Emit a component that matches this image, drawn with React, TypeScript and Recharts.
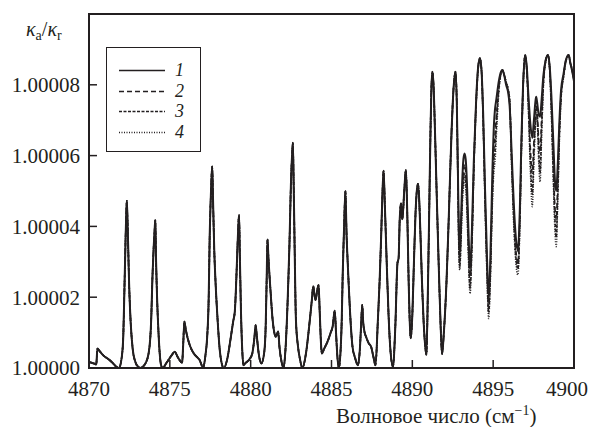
import React from 'react';
import { LineChart, Line, XAxis, YAxis, Legend, ReferenceArea } from 'recharts';

// wavenumber (cm^-1) and (kappa_a/kappa_r - 1) in units of 1e-5
// below 4892.8 cm^-1 the four curves coincide
const nuLeft = [
  4870.0, 4870.35, 4870.45, 4870.52, 4870.65, 4870.9, 4871.2, 4871.45, 4871.7, 4871.85,
  4872.03, 4872.12, 4872.18, 4872.24, 4872.3, 4872.34, 4872.38, 4872.42, 4872.48, 4872.55,
  4872.7, 4872.86, 4873.05, 4873.17, 4873.45, 4873.69, 4873.85, 4873.92, 4874.0, 4874.06,
  4874.1, 4874.15, 4874.21, 4874.3, 4874.36, 4874.45, 4874.55, 4874.8, 4875.1, 4875.3,
  4875.5, 4875.76, 4875.83, 4875.9, 4875.98, 4876.1, 4876.27, 4876.5, 4876.7, 4876.85,
  4876.95, 4877.06, 4877.2, 4877.31, 4877.4, 4877.47, 4877.54, 4877.62, 4877.68, 4877.75,
  4877.83, 4877.95, 4878.09, 4878.2, 4878.34, 4878.55, 4878.75, 4878.92, 4879.02, 4879.12,
  4879.2, 4879.28, 4879.33, 4879.4, 4879.47, 4879.55, 4879.7, 4879.9, 4880.1, 4880.22,
  4880.31, 4880.38, 4880.5, 4880.66, 4880.84, 4880.93, 4880.99, 4881.04, 4881.1, 4881.24,
  4881.35, 4881.45, 4881.55, 4881.62, 4881.7, 4881.78, 4881.9, 4882.03, 4882.15, 4882.28,
  4882.4, 4882.49, 4882.56, 4882.61, 4882.66, 4882.72, 4882.8, 4882.93, 4883.05, 4883.2,
  4883.42, 4883.66, 4883.78, 4883.87, 4883.95, 4884.02, 4884.1, 4884.2, 4884.27, 4884.35,
  4884.4, 4884.55, 4884.76, 4884.95, 4885.07, 4885.2, 4885.28, 4885.36, 4885.45, 4885.55,
  4885.63, 4885.7, 4885.78, 4885.86, 4885.93, 4886.0, 4886.07, 4886.2, 4886.3, 4886.45,
  4886.63, 4886.75, 4886.83, 4886.9, 4886.96, 4887.05, 4887.14, 4887.3, 4887.45, 4887.6,
  4887.72, 4887.87, 4887.98, 4888.07, 4888.15, 4888.22, 4888.3, 4888.43, 4888.53, 4888.63,
  4888.8, 4888.95, 4889.08, 4889.15, 4889.22, 4889.3, 4889.38, 4889.5, 4889.6, 4889.68,
  4889.77, 4889.85, 4889.9, 4890.0, 4890.1, 4890.2, 4890.3, 4890.35, 4890.42, 4890.5,
  4890.6, 4890.7, 4890.8, 4890.87, 4890.97, 4891.05, 4891.12, 4891.18, 4891.24, 4891.31,
  4891.4, 4891.49, 4891.6, 4891.7, 4891.84, 4891.95, 4892.11, 4892.25, 4892.42, 4892.55,
  4892.67, 4892.75,
];
const kappaLeft = [
  0.17, 0.12, 0.1, 0.55, 0.48, 0.35, 0.25, 0.15, 0.03, 0.0,
  0.32, 0.9, 2.0, 3.2, 4.3, 4.72, 4.2, 3.5, 2.4, 1.55,
  0.55, 0.18, 0.03, 0.0, 0.1, 0.42, 1.4, 2.5, 3.4, 3.9,
  4.18, 3.0, 2.0, 1.0, 0.5, 0.1, 0.0, 0.15, 0.35, 0.46,
  0.3, 0.15, 0.7, 1.31, 1.1, 0.85, 0.6, 0.4, 0.3, 0.22,
  0.1, 0.0, 0.35, 0.88, 1.9, 3.8, 4.9, 5.69, 4.6, 3.3,
  2.4, 1.4, 0.5, 0.15, 0.0, 0.25, 0.8, 1.32, 1.6, 2.6,
  3.6, 4.32, 3.2, 1.6, 0.6, 0.08, 0.15, 0.23, 0.41, 0.8,
  1.21, 0.9, 0.4, 0.13, 0.45, 1.2, 2.5, 3.63, 3.1, 2.1,
  1.4, 1.03, 0.88, 0.95, 1.03, 0.6, 0.2, 0.0, 0.5, 1.8,
  3.5, 5.2, 6.0, 6.36, 5.2, 3.4, 1.36, 0.6, 0.25, 0.0,
  0.41, 1.36, 1.9, 2.31, 2.05, 1.92, 2.15, 2.34, 1.6, 0.7,
  0.41, 0.55, 0.75, 1.0, 1.17, 1.62, 1.0, 0.35, 0.0, 0.4,
  1.3, 2.77, 4.0, 5.0, 3.8, 3.0, 2.3, 1.17, 0.6, 0.3,
  0.08, 0.5, 1.2, 1.78, 1.3, 1.0, 0.88, 0.7, 0.6, 0.3,
  0.08, 1.36, 2.5, 3.7, 4.9, 5.57, 4.6, 2.77, 1.5, 0.6,
  0.04, 1.2, 2.96, 3.1, 4.2, 4.65, 4.2, 5.0, 5.59, 4.5,
  2.5, 1.2, 0.84, 1.5, 3.0, 4.4, 5.1, 5.2, 4.8, 3.8,
  2.4, 1.3, 0.6, 0.37, 2.4, 4.6, 6.6, 7.9, 8.37, 8.0,
  6.7, 5.2, 3.4, 1.9, 0.4, 1.0, 2.4, 4.2, 6.6, 7.9,
  8.37, 7.5,
];

// above 4892.8 cm^-1 the curves split apart
const nuRight = [
  4892.82, 4892.88, 4892.93, 4893.0, 4893.08, 4893.16, 4893.23, 4893.3, 4893.38, 4893.47,
  4893.57, 4893.68, 4893.8, 4893.95, 4894.07, 4894.18, 4894.28, 4894.38, 4894.5, 4894.62,
  4894.72, 4894.82, 4894.95, 4895.05, 4895.11, 4895.2, 4895.35, 4895.47, 4895.57, 4895.67,
  4895.8, 4895.92, 4896.02, 4896.15, 4896.28, 4896.4, 4896.53, 4896.65, 4896.75, 4896.85,
  4896.98, 4897.08, 4897.18, 4897.3, 4897.42, 4897.52, 4897.62, 4897.66, 4897.72, 4897.82,
  4897.9, 4898.0, 4898.1, 4898.25, 4898.39, 4898.5, 4898.6, 4898.72, 4898.82, 4898.9,
  4899.0, 4899.1, 4899.2, 4899.35, 4899.5, 4899.67, 4899.78, 4899.88, 4900.0,
];
const kappa1Right = [
  5.5, 3.8, 3.3, 4.0, 5.2, 5.9, 6.06, 5.9, 5.2, 3.9,
  2.8, 3.8, 5.8, 7.6, 8.5, 8.75, 8.4, 7.2, 5.0, 3.1,
  2.0, 3.0, 5.5, 6.9, 7.29, 7.6, 8.1, 8.35, 8.42, 8.3,
  8.0, 7.8, 7.4, 6.0, 4.6, 3.7, 3.3, 4.5, 6.5, 8.0,
  8.84, 8.5, 7.7, 6.9, 6.5, 7.0, 7.55, 7.66, 7.5, 7.15,
  7.1, 7.6, 8.23, 8.7, 8.84, 8.5, 7.7, 6.4, 5.3, 5.0,
  5.8, 7.0, 7.85, 8.3, 8.7, 8.84, 8.6, 8.4, 8.1,
];
const kappa2Right = [
  5.35, 3.55, 3.0, 3.7, 4.9, 5.55, 5.75, 5.55, 4.8, 3.5,
  2.45, 3.5, 5.65, 7.55, 8.5, 8.75, 8.4, 7.1, 4.8, 2.85,
  1.7, 2.7, 5.0, 6.2, 6.55, 7.1, 7.95, 8.3, 8.42, 8.3,
  8.05, 7.85, 7.5, 5.8, 4.3, 3.35, 2.95, 4.25, 6.35, 7.95,
  8.84, 8.45, 7.5, 6.2, 5.5, 6.4, 7.2, 7.4, 7.25, 6.4,
  6.1, 7.1, 8.05, 8.7, 8.84, 8.45, 7.45, 5.8, 4.55, 4.2,
  5.3, 6.8, 7.7, 8.25, 8.7, 8.84, 8.6, 8.42, 8.12,
];
const kappa3Right = [
  5.25, 3.4, 2.85, 3.55, 4.7, 5.3, 5.5, 5.3, 4.6, 3.3,
  2.25, 3.4, 5.55, 7.5, 8.45, 8.75, 8.4, 7.05, 4.7, 2.7,
  1.55, 2.55, 4.8, 5.9, 6.1, 6.85, 7.85, 8.3, 8.42, 8.3,
  8.07, 7.88, 7.55, 5.7, 4.15, 3.15, 2.8, 4.1, 6.25, 7.9,
  8.84, 8.42, 7.4, 5.9, 4.9, 6.1, 7.0, 7.2, 7.1, 6.1,
  5.5, 6.8, 7.95, 8.68, 8.84, 8.42, 7.3, 5.5, 4.2, 3.7,
  5.0, 6.6, 7.65, 8.22, 8.68, 8.84, 8.6, 8.44, 8.14,
];
const kappa4Right = [
  5.2, 3.3, 2.77, 3.4, 4.5, 5.1, 5.3, 5.1, 4.4, 3.1,
  2.1, 3.3, 5.5, 7.5, 8.45, 8.75, 8.4, 7.0, 4.6, 2.6,
  1.4, 2.4, 4.6, 5.6, 5.8, 6.6, 7.8, 8.3, 8.42, 8.3,
  8.09, 7.9, 7.57, 5.6, 4.0, 3.0, 2.63, 4.0, 6.2, 7.9,
  8.84, 8.4, 7.3, 5.6, 4.56, 5.8, 6.9, 7.1, 7.0, 5.8,
  5.26, 6.6, 7.9, 8.65, 8.84, 8.4, 7.2, 5.3, 3.9, 3.43,
  4.8, 6.5, 7.6, 8.2, 8.65, 8.84, 8.6, 8.45, 8.15,
];

const xTicks = [4870, 4875, 4880, 4885, 4890, 4895, 4900];
const yTicks = [0, 2, 4, 6, 8];
const legendNames = ['1', '2', '3', '4'];

const data = [
  ...nuLeft.map((nu, i) => ({
    nu,
    k1: kappaLeft[i],
    k2: kappaLeft[i],
    k3: kappaLeft[i],
    k4: kappaLeft[i],
  })),
  ...nuRight.map((nu, i) => ({
    nu,
    k1: kappa1Right[i],
    k2: kappa2Right[i],
    k3: kappa3Right[i],
    k4: kappa4Right[i],
  })),
];

const INK = '#231f20';
const SERIF = 'Liberation Serif, DejaVu Serif, serif';

const series = [
  { key: 'k1', name: legendNames[0], dash: undefined, width: 2 },
  { key: 'k2', name: legendNames[1], dash: '5 3', width: 1.6 },
  { key: 'k3', name: legendNames[2], dash: '3 1.5', width: 1.6 },
  { key: 'k4', name: legendNames[3], dash: '1 1.5', width: 1.6 },
];

const renderLegend = () => (
  <div
    style={{
      position: 'relative',
      width: 95,
      height: 105,
      boxSizing: 'border-box',
      border: `1.5px solid ${INK}`,
      background: '#fff',
    }}
  >
    {series.map((s, i) => (
      <div
        key={s.key}
        style={{ position: 'absolute', left: 12, top: 14 + i * 20.7, height: 17, display: 'flex', alignItems: 'center' }}
      >
        <svg width={48} height={17}>
          <line x1={0} x2={46} y1={8.5} y2={8.5} stroke={INK} strokeWidth={s.width * 0.8} strokeDasharray={s.dash} />
        </svg>
        <span style={{ marginLeft: 8, fontFamily: SERIF, fontStyle: 'italic', fontSize: 18, color: INK, lineHeight: '17px' }}>
          {s.name}
        </span>
      </div>
    ))}
  </div>
);

export default function App() {
  return (
    <div style={{ position: 'relative', width: 580, height: 419, background: '#fff' }}>
      <div
        style={{
          position: 'absolute',
          left: 18,
          top: 10,
          fontFamily: SERIF,
          fontSize: 20,
          lineHeight: '22px',
          color: INK,
          whiteSpace: 'nowrap',
        }}
      >
        <i>κ</i>
        <span style={{ fontSize: 14, position: 'relative', top: 4 }}>a</span>/<i>κ</i>
        <span style={{ fontSize: 14, position: 'relative', top: 4 }}>r</span>
      </div>
      <LineChart width={580} height={419} data={data} margin={{ top: 6, right: 14, left: 0, bottom: 29 }}>
        <XAxis
          dataKey="nu"
          type="number"
          domain={[4870, 4900]}
          ticks={xTicks}
          height={30}
          axisLine={false}
          tickSize={-8}
          tickMargin={21}
          tickLine={{ stroke: INK, strokeWidth: 1.5 }}
          tick={{ fill: INK, fontSize: 21, fontFamily: SERIF }}
        />
        <YAxis
          type="number"
          domain={[0, 10]}
          ticks={yTicks}
          width={81}
          axisLine={false}
          tickSize={-8}
          tickMargin={17}
          tickLine={{ stroke: INK, strokeWidth: 1.5 }}
          tick={{ fill: INK, fontSize: 21, fontFamily: SERIF }}
          tickFormatter={(v: number) => (1 + v * 1e-5).toFixed(5)}
        />
        <ReferenceArea x1={4870} x2={4900} y1={0} y2={10} fill="none" stroke={INK} strokeWidth={2} />
        {series
          .slice()
          .reverse()
          .map((s) => (
            <Line
              key={s.key}
              dataKey={s.key}
              name={s.name}
              type="monotone"
              stroke={INK}
              strokeWidth={s.width}
              strokeDasharray={s.dash}
              dot={false}
              isAnimationActive={false}
            />
          ))}
        <Legend
          layout="vertical"
          align="center"
          verticalAlign="middle"
          content={renderLegend}
          wrapperStyle={{ left: 98, top: 39, width: 'auto' }}
        />
      </LineChart>
      <div
        style={{
          position: 'absolute',
          left: 328,
          top: 398,
          fontFamily: SERIF,
          fontSize: 21,
          lineHeight: '20px',
          color: INK,
          whiteSpace: 'nowrap',
        }}
      >
        Волновое число (см<span style={{ fontSize: 14, position: 'relative', top: -8 }}>−1</span>)
      </div>
    </div>
  );
}
